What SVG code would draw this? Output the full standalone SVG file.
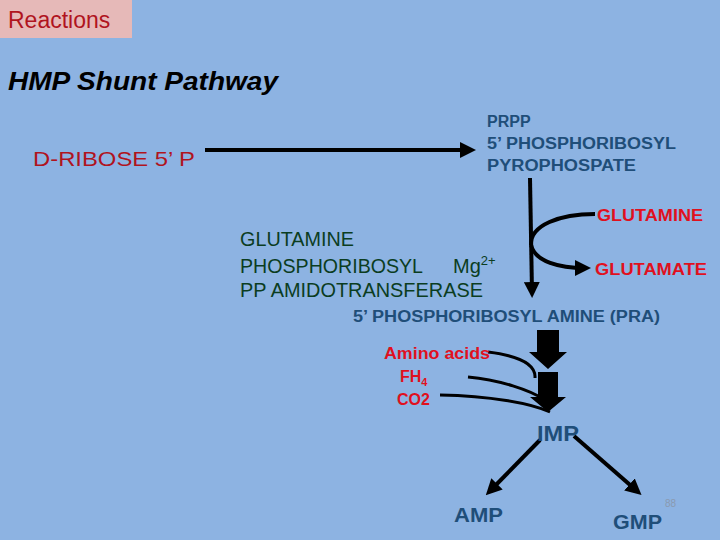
<svg xmlns="http://www.w3.org/2000/svg" width="720" height="540" viewBox="0 0 720 540">
<defs>
<style>
.bl{font-family:"Liberation Sans",Arial,sans-serif;font-weight:bold;fill:#1f4e79}
.red{font-family:"Liberation Sans",Arial,sans-serif;font-weight:bold;fill:#e0101e}
.grn{font-family:"Liberation Sans",Arial,sans-serif;fill:#0b3d1f;font-size:20px}
.ln{fill:none;stroke:#000;stroke-width:4}
.ln3{fill:none;stroke:#000;stroke-width:3}
</style>
<marker id="ah" markerWidth="4" markerHeight="4" refX="2.5" refY="2" orient="auto"><path d="M0,0 L4,2 L0,4 Z" fill="#000"/></marker>
</defs>
<rect width="720" height="540" fill="#8db3e2"/>
<g id="title">
<rect x="0" y="0" width="132" height="38" fill="#e6b9b8"/>
<text x="8" y="28" font-family="Liberation Sans,Arial,sans-serif" font-size="23" fill="#b0141e">Reactions</text>
<text x="8" y="90" font-family="Liberation Sans,Arial,sans-serif" font-size="26" font-weight="bold" font-style="italic" fill="#000" textLength="270" lengthAdjust="spacingAndGlyphs">HMP Shunt Pathway</text>
</g>
<g id="connectors">
<line class="ln" x1="205" y1="150" x2="470" y2="150" marker-end="url(#ah)"/>
<line class="ln" x1="530" y1="178" x2="532" y2="292" marker-end="url(#ah)"/>
<path class="ln" d="M595,214 C560,214 530,225 531,245"/>
<path class="ln" d="M531,245 C535,262 560,268 585,268" marker-end="url(#ah)"/>
<path d="M537,330 h22 v22 h8 l-19,17 l-19,-17 h8 Z" fill="#000"/>
<path d="M538,372 h20 v25 h8 l-18,15 l-18,-15 h8 Z" fill="#000"/>
<path class="ln3" d="M488,352 C520,356 536,365 535,378"/>
<path class="ln3" d="M468,377 C500,380 530,390 545,400"/>
<path class="ln3" d="M440,395 C490,396 530,403 550,412"/>
<line class="ln" x1="540" y1="440" x2="490" y2="491" marker-end="url(#ah)"/>
<line class="ln" x1="574" y1="436" x2="637" y2="491" marker-end="url(#ah)"/>
</g>
<g id="dribose"><text x="33" y="166" font-family="Liberation Sans,Arial,sans-serif" font-size="21" fill="#b0141e" textLength="162" lengthAdjust="spacingAndGlyphs">D-RIBOSE 5’ P</text></g>
<g id="prpp">
<text class="bl" x="487" y="127" font-size="16">PRPP</text>
<text class="bl" x="487" y="149" font-size="16" textLength="189" lengthAdjust="spacingAndGlyphs">5’ PHOSPHORIBOSYL</text>
<text class="bl" x="487" y="171" font-size="16" textLength="149" lengthAdjust="spacingAndGlyphs">PYROPHOSPATE</text>
</g>
<g id="glutamine"><text class="red" x="597" y="221" font-size="16" textLength="106" lengthAdjust="spacingAndGlyphs">GLUTAMINE</text></g>
<g id="glutamate"><text class="red" x="595" y="275" font-size="16" textLength="112" lengthAdjust="spacingAndGlyphs">GLUTAMATE</text></g>
<g id="enzyme">
<text class="grn" x="240" y="246" textLength="114" lengthAdjust="spacingAndGlyphs">GLUTAMINE</text>
<text class="grn" x="240" y="273"><tspan textLength="183" lengthAdjust="spacingAndGlyphs">PHOSPHORIBOSYL</tspan><tspan x="453">Mg</tspan><tspan font-size="13" dy="-8">2+</tspan></text>
<text class="grn" x="240" y="297" textLength="243" lengthAdjust="spacingAndGlyphs">PP AMIDOTRANSFERASE</text>
</g>
<g id="pra"><text class="bl" x="353" y="322" font-size="16" textLength="307" lengthAdjust="spacingAndGlyphs">5’ PHOSPHORIBOSYL AMINE (PRA)</text></g>
<g id="cofactors">
<text class="red" x="384" y="359" font-size="16" textLength="106" lengthAdjust="spacingAndGlyphs">Amino acids</text>
<text class="red" x="400" y="382" font-size="16">FH<tspan font-size="11" dy="4">4</tspan></text>
<text class="red" x="397" y="405" font-size="16">CO2</text>
</g>
<g id="imp"><text class="bl" x="537" y="441" font-size="22" font-weight="normal" textLength="42" lengthAdjust="spacingAndGlyphs">IMP</text></g>
<g id="amp"><text class="bl" x="454" y="522" font-size="20" font-weight="normal" font-family="Open Sans,sans-serif" textLength="49" lengthAdjust="spacingAndGlyphs">AMP</text></g>
<g id="gmp"><text class="bl" x="613" y="529" font-size="20" font-weight="normal" font-family="Open Sans,sans-serif" textLength="49" lengthAdjust="spacingAndGlyphs">GMP</text></g>
<text x="665" y="507" font-family="Liberation Sans,Arial,sans-serif" font-size="10" fill="#8a9ab0">88</text>
</svg>
